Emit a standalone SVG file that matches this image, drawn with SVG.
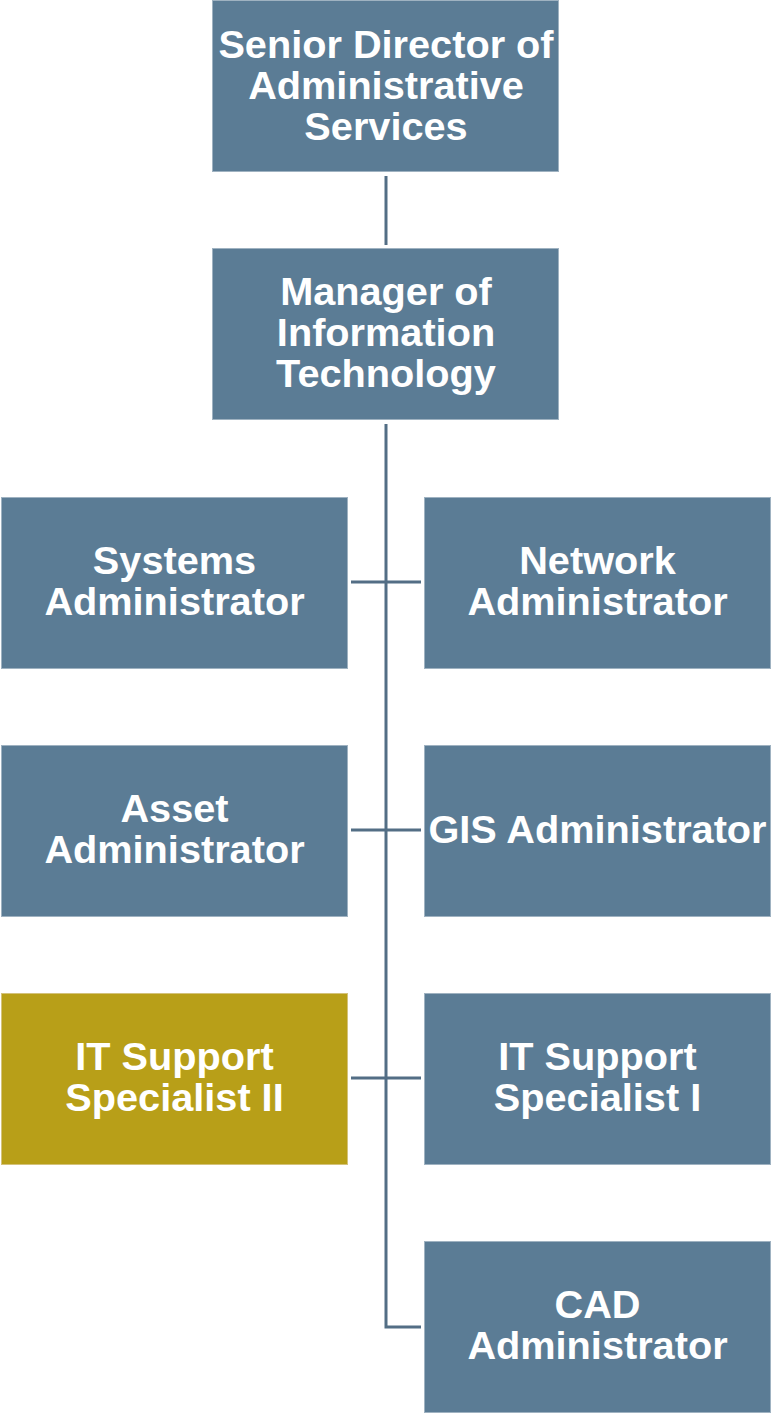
<svg xmlns="http://www.w3.org/2000/svg" width="772" height="1415" viewBox="0 0 772 1415">
<style>
.box{fill:#5B7C95;stroke:#9FB2C1;stroke-width:1}
.gold{fill:#B89F18;stroke:#D4C27A;stroke-width:1}
text{font-family:"Liberation Sans",Arial,sans-serif;font-weight:bold;font-size:39.7px;fill:#FFFFFF;text-anchor:middle}
.ln{stroke:#536E85;stroke-width:3;fill:none}
</style>
<rect width="772" height="1415" fill="#FFFFFF"/>
<g id="connectors">
<line class="ln" x1="386" y1="176" x2="386" y2="245"/>
<polyline class="ln" points="386,424 386,1327 421,1327"/>
<line class="ln" x1="351" y1="582" x2="421" y2="582"/>
<line class="ln" x1="351" y1="830" x2="421" y2="830"/>
<line class="ln" x1="351" y1="1078" x2="421" y2="1078"/>
</g>
<g id="senior-director">
<rect class="box" x="212.5" y="0.5" width="346" height="171"/>
<text x="386" y="58">Senior Director of</text>
<text x="386" y="99">Administrative</text>
<text x="386" y="140">Services</text>
</g>
<g id="manager-it">
<rect class="box" x="212.5" y="248.5" width="346" height="171"/>
<text x="386" y="305">Manager of</text>
<text x="386" y="346">Information</text>
<text x="386" y="387">Technology</text>
</g>
<g id="systems-admin">
<rect class="box" x="1.5" y="497.5" width="346" height="171"/>
<text x="174.5" y="574">Systems</text>
<text x="174.5" y="615">Administrator</text>
</g>
<g id="network-admin">
<rect class="box" x="424.5" y="497.5" width="346" height="171"/>
<text x="597.5" y="574">Network</text>
<text x="597.5" y="615">Administrator</text>
</g>
<g id="asset-admin">
<rect class="box" x="1.5" y="745.5" width="346" height="171"/>
<text x="174.5" y="822">Asset</text>
<text x="174.5" y="863">Administrator</text>
</g>
<g id="gis-admin">
<rect class="box" x="424.5" y="745.5" width="346" height="171"/>
<text x="597.5" y="843">GIS Administrator</text>
</g>
<g id="it-support-2">
<rect class="gold" x="1.5" y="993.5" width="346" height="171"/>
<text x="174.5" y="1070">IT Support</text>
<text x="174.5" y="1111">Specialist II</text>
</g>
<g id="it-support-1">
<rect class="box" x="424.5" y="993.5" width="346" height="171"/>
<text x="597.5" y="1070">IT Support</text>
<text x="597.5" y="1111">Specialist I</text>
</g>
<g id="cad-admin">
<rect class="box" x="424.5" y="1241.5" width="346" height="171"/>
<text x="597.5" y="1318">CAD</text>
<text x="597.5" y="1359">Administrator</text>
</g>
</svg>
